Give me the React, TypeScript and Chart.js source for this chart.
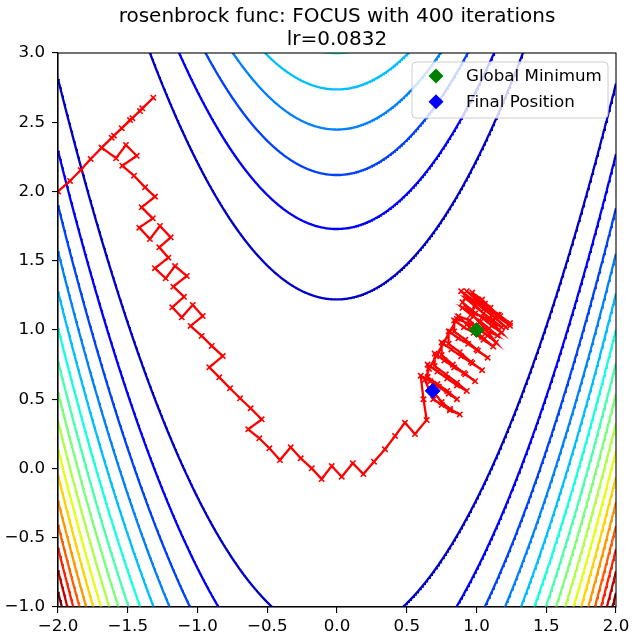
import { useEffect, useRef } from "react";
import { Chart, registerables } from "chart.js";

Chart.register(...registerables);

const FONT = '"DejaVu Sans", "Liberation Sans", sans-serif';

const TITLE_LINES = ["rosenbrock func: FOCUS with 400 iterations", "lr=0.0832"];

const X_MIN = -2;
const X_MAX = 2;
const Y_MIN = -1;
const Y_MAX = 3;
const TICK_STEP = 0.5;

// Levels of the Rosenbrock surface that are traced as contour lines.
const CONTOUR_LEVELS = [
  0, 150, 300, 450, 600, 750, 900, 1050, 1200, 1350, 1500, 1650, 1800, 1950, 2100, 2250, 2400,
];
const CONTOUR_SAMPLES = 801;

const GLOBAL_MINIMUM: [number, number] = [1, 1];
const FINAL_POSITION: [number, number] = [0.686, 0.561];

// Optimizer iterates on the way down the valley.
const DESCENT: [number, number][] = [
  [-2.0, 2.0], [-1.914, 2.076], [-1.837, 2.155], [-1.766, 2.235], [-1.687, 2.316],
  [-1.615, 2.388], [-1.543, 2.456], [-1.467, 2.529], [-1.396, 2.601], [-1.317, 2.677],
  [-1.412, 2.581], [-1.484, 2.516], [-1.599, 2.403], [-1.687, 2.316],
  [-1.584, 2.24], [-1.513, 2.336], [-1.436, 2.258], [-1.539, 2.186], [-1.455, 2.114],
  [-1.376, 2.03], [-1.305, 1.963], [-1.4, 1.886], [-1.321, 1.806], [-1.417, 1.739],
  [-1.341, 1.657], [-1.269, 1.751], [-1.192, 1.669], [-1.274, 1.597], [-1.209, 1.522],
  [-1.305, 1.446], [-1.228, 1.373], [-1.161, 1.462], [-1.077, 1.39], [-1.173, 1.313],
  [-1.097, 1.24], [-1.181, 1.164], [-1.113, 1.092], [-1.034, 1.181], [-0.963, 1.101],
  [-1.049, 1.029], [-0.97, 0.957], [-0.898, 0.885], [-0.819, 0.812], [-0.915, 0.731],
  [-0.844, 0.658], [-0.767, 0.579], [-0.695, 0.507], [-0.619, 0.435], [-0.54, 0.355],
  [-0.636, 0.283], [-0.557, 0.218], [-0.485, 0.146], [-0.409, 0.061], [-0.332, 0.153],
  [-0.26, 0.074], [-0.181, 0.001], [-0.11, -0.076], [-0.038, 0.018], [0.034, -0.059],
  [0.113, 0.038], [0.189, -0.04], [0.265, 0.049], [0.344, 0.139], [0.416, 0.235],
  [0.487, 0.331], [0.559, 0.249], [0.643, 0.35],
];

// Iterates climbing the valley in rungs across it.
const LADDER: [number, number][] = [
  [0.62, 0.5], [0.6, 0.67],
  [0.67, 0.63], [0.73, 0.59], [0.8, 0.54], [0.86, 0.5],
  [0.79, 0.56], [0.72, 0.61], [0.65, 0.66], [0.65, 0.75],
  [0.72, 0.7], [0.79, 0.65], [0.86, 0.6], [0.93, 0.56],
  [0.86, 0.62], [0.78, 0.68], [0.7, 0.74], [0.7, 0.83],
  [0.77, 0.78], [0.84, 0.73], [0.92, 0.68], [0.99, 0.63],
  [0.91, 0.69], [0.83, 0.75], [0.75, 0.82], [0.75, 0.91],
  [0.82, 0.86], [0.89, 0.81], [0.97, 0.76], [1.04, 0.71],
  [0.96, 0.77], [0.88, 0.84], [0.8, 0.9], [0.8, 0.99],
  [0.87, 0.94], [0.94, 0.9], [1.01, 0.85], [1.08, 0.8],
  [1.0, 0.86], [0.92, 0.93], [0.84, 0.99], [0.84, 1.07],
  [0.91, 1.02], [0.98, 0.98], [1.05, 0.93], [1.12, 0.88],
  [1.04, 0.95], [0.95, 1.02], [0.87, 1.1],
];

// Iterates swinging across the valley above the minimum, then falling back.
const SWING: [number, number][] = [
  [0.95, 1.07], [1.01, 1.01], [1.08, 0.96], [1.14, 0.91],
  [1.06, 1.01], [0.98, 1.1], [0.9, 1.2],
  [0.97, 1.14], [1.04, 1.09], [1.11, 1.03], [1.18, 0.98],
  [1.09, 1.08], [0.99, 1.18], [0.89, 1.28],
  [0.97, 1.22], [1.05, 1.15], [1.13, 1.09], [1.21, 1.02],
  [1.11, 1.11], [1.02, 1.2], [0.93, 1.28],
  [1.01, 1.22], [1.09, 1.15], [1.16, 1.09], [1.24, 1.03],
  [1.15, 1.11], [1.06, 1.19], [0.97, 1.27],
  [1.04, 1.22], [1.1, 1.16], [1.17, 1.1], [1.24, 1.05],
  [1.16, 1.11], [1.08, 1.16], [1.0, 1.2], [0.92, 1.23],
  [0.99, 1.17], [1.05, 1.12], [1.12, 1.07], [1.18, 1.02],
  [1.09, 1.07], [0.99, 1.12], [0.9, 1.16],
  [0.96, 1.11], [1.03, 1.06], [1.09, 1.01], [1.15, 0.96],
  [1.06, 1.0], [0.96, 1.04], [0.86, 1.08],
  [0.81, 0.99], [0.76, 0.9], [0.71, 0.81], [0.66, 0.72], [0.63, 0.64],
  [0.69, 0.5], [0.75, 0.46], [0.81, 0.42], [0.88, 0.39],
  [0.81, 0.43], [0.75, 0.48], [0.686, 0.561],
];

// matplotlib "jet" colormap segment data: [position, value]
const JET: Record<"r" | "g" | "b", [number, number][]> = {
  r: [[0, 0], [0.35, 0], [0.66, 1], [0.89, 1], [1, 0.5]],
  g: [[0, 0], [0.125, 0], [0.375, 1], [0.64, 1], [0.91, 0], [1, 0]],
  b: [[0, 0.5], [0.11, 1], [0.34, 1], [0.65, 0], [1, 0]],
};

function jetChannel(seg: [number, number][], t: number): number {
  for (let i = 1; i < seg.length; i++) {
    const [p0, v0] = seg[i - 1];
    const [p1, v1] = seg[i];
    if (t <= p1) return v0 + ((t - p0) / (p1 - p0)) * (v1 - v0);
  }
  return seg[seg.length - 1][1];
}

function jet(t: number): string {
  const c = (s: [number, number][]) => Math.round(255 * jetChannel(s, Math.min(1, Math.max(0, t))));
  return `rgb(${c(JET.r)}, ${c(JET.g)}, ${c(JET.b)})`;
}

// One branch of the level set (1-x)^2 + 100 (y - x^2)^2 = level.
function levelBranch(level: number, sign: number) {
  const pts: { x: number; y: number }[] = [];
  for (let i = 0; i < CONTOUR_SAMPLES; i++) {
    const x = X_MIN + ((X_MAX - X_MIN) * i) / (CONTOUR_SAMPLES - 1);
    const rest = level - (1 - x) * (1 - x);
    if (rest < 0) continue;
    pts.push({ x, y: x * x + sign * Math.sqrt(rest / 100) });
  }
  return pts;
}

const fmtTick = (v: number | string) => Number(v).toFixed(1).replace("-", "\u2212");

const framePlugin = {
  id: "axesFrame",
  afterDatasetsDraw(chart: any) {
    const { ctx, chartArea: a } = chart;
    ctx.save();
    ctx.strokeStyle = "#000";
    ctx.lineWidth = 1.1;
    ctx.strokeRect(a.left, a.top, a.right - a.left, a.bottom - a.top);
    ctx.restore();
  },
};

const titlePlugin = {
  id: "twoLineTitle",
  afterDraw(chart: any) {
    const { ctx, chartArea: a } = chart;
    const cx = (a.left + a.right) / 2;
    ctx.save();
    ctx.fillStyle = "#000";
    ctx.font = `20px ${FONT}`;
    ctx.textAlign = "center";
    ctx.textBaseline = "alphabetic";
    TITLE_LINES.forEach((line, i) => ctx.fillText(line, cx, 22 + i * 22.5));
    ctx.restore();
  },
};

const legendPlugin = {
  id: "insetLegend",
  afterDraw(chart: any) {
    const { ctx, chartArea: a } = chart;
    const entries = chart.data.datasets.filter((d: any) => d.inLegend);
    const boxRight = a.right - 8;
    const boxTop = a.top + 9;
    const boxW = 196;
    const rowH = 25.7;
    const boxH = 56;
    const left = boxRight - boxW;
    ctx.save();
    ctx.beginPath();
    ctx.roundRect(left, boxTop, boxW, boxH, 4);
    ctx.fillStyle = "rgba(255,255,255,0.8)";
    ctx.fill();
    ctx.strokeStyle = "#cccccc";
    ctx.lineWidth = 1;
    ctx.stroke();
    entries.forEach((d: any, i: number) => {
      const cy = boxTop + 14 + i * rowH;
      const mx = left + 24;
      const r = 7.5;
      ctx.beginPath();
      ctx.moveTo(mx, cy - r);
      ctx.lineTo(mx + r, cy);
      ctx.lineTo(mx, cy + r);
      ctx.lineTo(mx - r, cy);
      ctx.closePath();
      ctx.fillStyle = d.backgroundColor;
      ctx.fill();
      ctx.fillStyle = "#000";
      ctx.font = `16.7px ${FONT}`;
      ctx.textAlign = "left";
      ctx.textBaseline = "middle";
      ctx.fillText(d.label, left + 54, cy + 1);
    });
    ctx.restore();
  },
};

export default function App() {
  const canvasRef = useRef<HTMLCanvasElement | null>(null);

  useEffect(() => {
    const canvas = canvasRef.current;
    if (!canvas) return;

    const maxLevel = CONTOUR_LEVELS[CONTOUR_LEVELS.length - 1];
    const minLevel = CONTOUR_LEVELS[0];
    const contourSets = CONTOUR_LEVELS.filter((l) => l > 0).flatMap((level) =>
      [1, -1].map((sign) => ({
        data: levelBranch(level, sign),
        showLine: true,
        borderColor: jet((level - minLevel) / (maxLevel - minLevel)),
        borderWidth: 2.3,
        pointRadius: 0,
        clip: 0,
        order: 3,
      }))
    );

    const trajectory = [...DESCENT, ...LADDER, ...SWING];

    const chart = new Chart(canvas, {
      type: "scatter",
      data: {
        datasets: [
          {
            label: "Global Minimum",
            inLegend: true,
            data: [{ x: GLOBAL_MINIMUM[0], y: GLOBAL_MINIMUM[1] }],
            pointStyle: "rectRot",
            pointRadius: 7.5,
            backgroundColor: "green",
            borderColor: "green",
            borderWidth: 1,
            order: 0,
          } as any,
          {
            label: "Final Position",
            inLegend: true,
            data: [{ x: FINAL_POSITION[0], y: FINAL_POSITION[1] }],
            pointStyle: "rectRot",
            pointRadius: 7.5,
            backgroundColor: "blue",
            borderColor: "blue",
            borderWidth: 1,
            order: 1,
          } as any,
          {
            label: "path",
            data: trajectory.map(([x, y]) => ({ x, y })),
            showLine: true,
            borderColor: "red",
            borderWidth: 2.3,
            pointStyle: "crossRot",
            pointRadius: 3.8,
            pointBorderColor: "red",
            pointBorderWidth: 1.6,
            clip: 0,
            order: 2,
          } as any,
          ...contourSets,
        ],
      },
      options: {
        animation: false,
        responsive: false,
        events: [],
        layout: { padding: { top: 53, right: 19, left: 0, bottom: 0 } },
        plugins: {
          legend: { display: false },
          title: { display: false },
          tooltip: { enabled: false },
        },
        scales: {
          x: {
            type: "linear",
            min: X_MIN,
            max: X_MAX,
            ticks: {
              stepSize: TICK_STEP,
              callback: fmtTick,
              color: "#000",
              font: { family: FONT, size: 16.7 },
              padding: 4,
              maxRotation: 0,
              autoSkip: false,
            },
            grid: { drawOnChartArea: false, drawTicks: true, tickLength: 6, color: "#000", lineWidth: 1.1 },
            border: { display: true, color: "#000", width: 1.1 },
            afterFit: (s: any) => {
              s.height = 36;
            },
          },
          y: {
            type: "linear",
            min: Y_MIN,
            max: Y_MAX,
            ticks: {
              stepSize: TICK_STEP,
              callback: fmtTick,
              color: "#000",
              font: { family: FONT, size: 16.7 },
              padding: 7,
              autoSkip: false,
            },
            grid: { drawOnChartArea: false, drawTicks: true, tickLength: 6, color: "#000", lineWidth: 1.1 },
            border: { display: true, color: "#000", width: 1.1 },
            afterFit: (s: any) => {
              s.width = 58;
            },
          },
        },
      },
      plugins: [framePlugin, titlePlugin, legendPlugin],
    } as any);

    return () => chart.destroy();
  }, []);

  return (
    <div style={{ position: "fixed", left: 0, top: 0, width: 635, height: 643, background: "#fff" }}>
      <canvas ref={canvasRef} width={635} height={643} style={{ display: "block" }} />
    </div>
  );
}
